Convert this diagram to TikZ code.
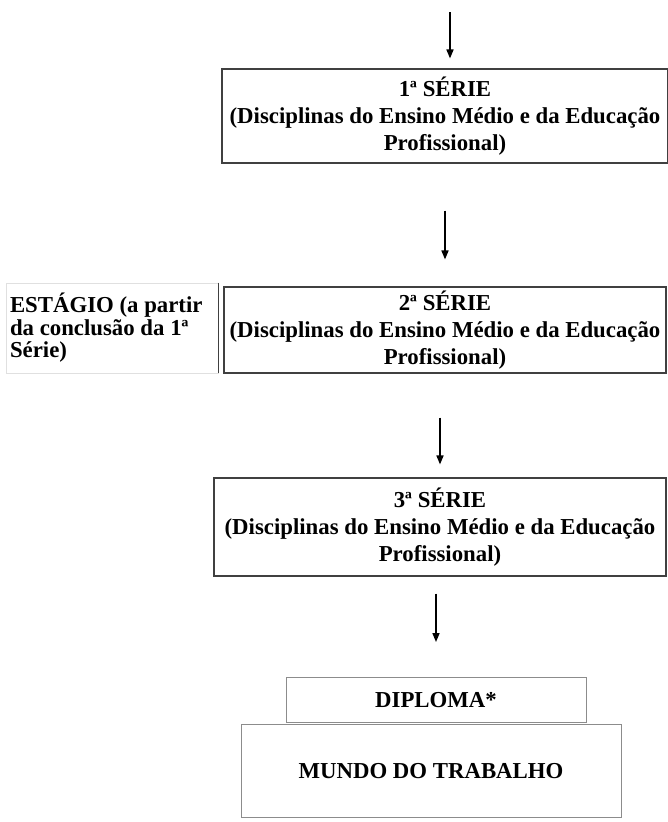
\documentclass[tikz,border=0pt]{standalone}
\usepackage{fontspec}
\setmainfont{Liberation Serif}
\usetikzlibrary{arrows.meta}

\begin{document}
\begin{tikzpicture}[x=1pt,y=-1pt,
    serie/.style={draw=black!75, line width=1.1pt, align=center, inner sep=0pt,
      font=\fontsize{22.8}{27}\selectfont\bfseries},
    fim/.style={draw=black!45, line width=0.9pt, align=center, inner sep=0pt,
      font=\fontsize{22.8}{27}\selectfont\bfseries},
    seta/.style={-{Triangle[length=9pt,width=7pt]}, line width=1.6pt}]

   \useasboundingbox (0,0) rectangle (667,822);

   % as tres series
   \node[serie, minimum width=446pt, minimum height=94pt] (s1) at (445,116)
      {1ª SÉRIE\\(Disciplinas do Ensino Médio e da Educação\\Profissional)};
   \node[serie, minimum width=442pt, minimum height=86pt] (s2) at (445,330)
      {2ª SÉRIE\\(Disciplinas do Ensino Médio e da Educação\\Profissional)};
   \node[serie, minimum width=452pt, minimum height=98pt] (s3) at (440,527)
      {3ª SÉRIE\\(Disciplinas do Ensino Médio e da Educação\\Profissional)};

   % estagio ao lado da 2a serie
   \node[draw=black!12, line width=0.8pt, minimum width=212pt, minimum height=90pt,
      text width=204pt, align=flush left, inner sep=4pt,
      font=\fontsize{22.8}{22.5}\selectfont\bfseries] (est) at (112,328)
      {ESTÁGIO (a partir\\da conclusão da 1ª\\Série)};
   \draw[black!75, line width=1.1pt] (est.north east) -- (est.south east);

   % saida
   \node[fim, minimum width=300pt, minimum height=45pt] (dip) at (436,700)
      {DIPLOMA*};
   \node[fim, minimum width=380pt, minimum height=93pt] (mundo) at (431,771)
      {MUNDO DO TRABALHO};

   \coordinate (inicio) at (450,12);
   \draw[seta, shorten >=10pt] (inicio) -- (inicio |- s1.north);
   \draw[seta, shorten <=47pt, shorten >=27pt] (s1.south) -- (s2.north);
   \draw[seta, shorten <=44pt, shorten >=13pt] (s3.north |- s2.south) -- (s3.north);
   \draw[seta, shorten <=17pt, shorten >=35pt] (dip.north |- s3.south) -- (dip.north);
  \end{tikzpicture}
\end{document}
